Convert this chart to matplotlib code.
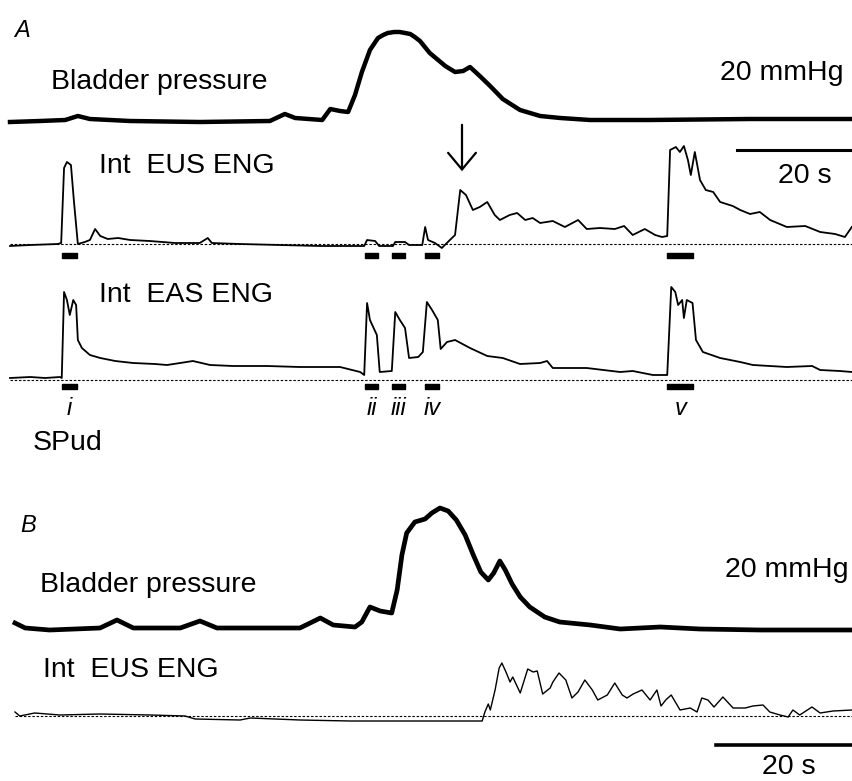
import matplotlib
matplotlib.use("Agg")
from matplotlib import pyplot as plt

plt.rcParams['font.family'] = ['Liberation Sans', 'DejaVu Sans']

# ---------------- panel A data (time in s, pressure in mmHg, ENG in a.u.) ----------------
a_p_t = [0, 5.2, 9.6, 11.8, 13.9, 20.9, 33.0, 45.2, 47.8, 49.6, 54.3, 55.7, 57.4, 58.8,
         60.0, 61.2, 62.6, 64.0, 64.9, 65.7, 66.8, 67.8, 68.7, 69.6, 70.4, 71.3, 73.0,
         75.7, 77.4, 78.8, 80.0, 81.7, 83.5, 85.7, 88.7, 92.2, 95.7, 100.9, 111.3, 128.7,
         146.4]
a_p_v = [-0.5, 0, 0.5, 2.5, 1, 0, -0.5, 0, 3.5, 1.5, 0.5, 6, 5, 4.5,
         13, 24.5, 35.5, 41.5, 43, 44, 44.5, 44.5, 44, 43.5, 42, 40, 34,
         27.5, 24.5, 25, 27, 22.5, 17.5, 11, 5.5, 2.5, 1.5, 0.5, 0.5, 1,
         1]

a_eus_t = [0, 3.5, 8.3, 8.9, 9.4, 9.9, 10.6, 11.1, 11.8, 13.0, 13.9, 14.8, 15.7, 17.0,
           18.8, 20.9, 24.3, 28.7, 33.0, 34.4, 35.1, 40.0, 46.9, 53.9, 61.6, 62.1, 63.5,
           64.2, 66.6, 67.0, 68.7, 69.4, 71.7, 72.2, 72.7, 73.9, 75.1, 76.5, 77.4, 78.3,
           79.3, 80.5, 81.7, 83.0, 84.3, 85.2, 86.9, 88.2, 89.6, 90.9, 92.2, 94.4, 96.5,
           98.8, 100.3, 102.6, 105.2, 106.8, 108.3, 110.4, 112.2, 113.4, 114.3, 114.8,
           115.8, 116.5, 117.2, 117.9, 118.4, 119.1, 120.0, 121.0, 122.3, 123.5, 125.7,
           127.0, 128.7, 130.4, 132.2, 135.1, 138.3, 140.9, 143.5, 145.2, 146.4]
a_eus_v = [-0.2, -0.1, 0, 0.1, 7.6, 8.2, 7.9, 4.4, 0, 0.2, 0.4, 1.5, 0.8, 0.5,
           0.6, 0.4, 0.3, 0.1, 0.1, 0.6, 0.1, 0, -0.1, -0.2, -0.2, 0.4, 0.3,
           -0.2, -0.2, 0.2, 0.2, -0.1, -0.1, 1.7, 0.4, 0.1, -0.4, 0.4, 0.9, 5.4,
           4.9, 3.4, 3.7, 4.2, 2.9, 2.4, 2.9, 3.1, 2.4, 2.6, 2.1, 2.3, 1.7,
           2.4, 1.5, 1.6, 1.5, 1.8, 0.9, 1.5, 0.9, 0.7, 0.8, 9.4,
           9.7, 9.2, 9.8, 8.4, 6.9, 9.2, 6.4, 5.4, 5.2, 4.2, 3.8,
           3.4, 3.0, 3.2, 2.4, 1.7, 1.8, 1.2, 1.0, 0.7, 1.7]

a_eas_t = [0, 3.5, 6.1, 8.7, 9.0, 9.4, 9.9, 10.4, 11.0, 11.5, 11.8, 12.5, 13.9, 15.7,
           18.3, 21.4, 25.2, 27.3, 29.6, 31.8, 34.8, 38.8, 44.7, 50.4, 57.4, 60.9, 61.6,
           62.1, 62.6, 63.8, 64.3, 66.4, 67.0, 67.8, 68.7, 69.4, 71.0, 71.8, 72.5, 73.4,
           74.4, 74.9, 76.0, 77.4, 80.0, 83.0, 85.7, 88.7, 92.2, 93.4, 94.4, 100.3, 106.1,
           108.3, 111.8, 114.3, 115.0, 115.7, 116.2, 116.9, 117.2, 117.7, 118.7, 119.3,
           120.5, 123.5, 127.0, 129.2, 135.1, 139.5, 140.9, 144.3, 146.4]
a_eas_v = [0.2, 0.3, 0.2, 0.3, 0.2, 8.8, 8.0, 6.5, 8.0, 7.5, 4.0, 3.2, 2.5, 2.2,
           1.9, 1.7, 1.6, 1.5, 1.7, 1.9, 1.5, 1.4, 1.4, 1.3, 1.3, 0.8, 0.5,
           7.7, 6.0, 4.5, 0.8, 0.9, 6.8, 6.0, 5.2, 2.2, 2.3, 2.8, 7.8, 7.0,
           6.0, 3.1, 3.8, 4.0, 3.2, 2.4, 2.2, 1.6, 1.7, 1.9, 1.2, 1.2, 0.8,
           0.9, 0.5, 0.5, 9.3, 8.8, 7.5, 8.0, 6.2, 8.0, 7.7, 4.0,
           2.8, 2.2, 1.8, 1.5, 1.3, 1.4, 1.0, 0.9, 0.8]

# SPud stimulation periods (s)
stim_start = [9.0, 61.7, 66.4, 72.2, 114.3]
stim_end = [11.7, 64.0, 68.7, 74.6, 118.8]
stim_labels = ['i', 'ii', 'iii', 'iv', 'v']

# ---------------- panel B data ----------------
b_p_t = [0, 1.5, 5.1, 12.5, 15.0, 17.4, 24.3, 27.2, 29.7, 36.0, 41.9, 44.9, 46.8, 50.0,
         51.0, 52.2, 53.7, 55.4, 56.2, 56.9, 57.6, 58.8, 60.3, 61.3, 62.5, 63.7, 64.9,
         66.2, 67.4, 68.5, 69.6, 70.4, 71.3, 72.1, 73.1, 74.3, 75.7, 77.9, 80.1, 84.6,
         89.0, 94.9, 100.7, 109.6, 123.1]
b_p_v = [2.5, 0, -1, 0, 4, 0, 0, 3.5, 0, 0, 0, 5, 1.5, 0.5,
         3, 10.5, 8.5, 7.5, 19, 36.5, 47.5, 53, 54.5, 57.5, 60, 58.5, 54,
         46.5, 36.5, 28, 24, 27.5, 33.5, 29, 22, 15.5, 10.5, 5.5, 3, 1.5,
         -0.5, 0.5, -0.5, -1, -1]

b_eus_t = [0, 0.7, 2.9, 6.6, 12.5, 19.9, 25.0, 26.5, 33.1, 34.6, 41.9, 49.3, 59.6, 68.7,
           69.1, 69.6, 69.9, 70.6, 71.2, 71.6, 72.2, 72.8, 73.2, 74.3, 75.4, 76.2, 76.8,
           77.6, 78.7, 79.1, 80.0, 81.0, 81.9, 82.8, 83.8, 84.9, 85.7, 87.1, 88.2, 89.3,
           90.0, 90.9, 92.2, 93.4, 94.4, 95.0, 95.7, 96.5, 97.8, 99.3, 100.3, 101.0, 101.9,
           102.8, 104.1, 105.6, 107.4, 108.5, 110.0, 111.0, 112.5, 113.7, 114.4, 115.4,
           117.2, 118.4, 120.3, 123.1]
b_eus_v = [0.4, 0, 0.3, 0.1, 0.2, 0.1, 0, -0.3, -0.4, -0.2, -0.4, -0.5, -0.5, -0.5,
           0.4, 1.2, 0.6, 2.6, 4.8, 5.3, 4.4, 3.4, 3.9, 2.3, 4.7, 4.4, 4.5,
           2.2, 2.8, 3.4, 4.3, 3.6, 1.8, 2.4, 3.6, 2.6, 1.6, 2.1, 3.3, 2.1,
           1.8, 2.2, 2.6, 1.6, 2.6, 1.0, 1.6, 2.1, 0.6, 0.8, 0.4, 1.8, 1.6,
           0.9, 1.9, 0.8, 0.8, 1.0, 1.1, 0.4, 0.1, -0.1, 0.6, 0.1,
           0.9, 0.3, 0.5, 0.6]

W, H = 852, 781
fig = plt.figure(figsize=(W / 100, H / 100), dpi=100)


def trace_axes(x0, px_per_s, t_len, base, px_per_unit, top, bot):
    """axes placed in pixel terms; data in seconds / units"""
    ax = fig.add_axes([x0 / W, 1 - bot / H, t_len * px_per_s / W, (bot - top) / H])
    ax.set_xlim(0, t_len)
    ax.set_ylim((base - bot) / px_per_unit, (base - top) / px_per_unit)
    ax.axis('off')
    ax.patch.set_alpha(0)
    return ax


TA, TB = 146.4, 123.1
dash = (0, (2.2, 1.6))

# panel A
ax_pa = trace_axes(10, 5.75, TA, 121, 2, 20, 140)
ax_pa.plot(a_p_t, a_p_v, color='black', lw=3.2, clip_on=False, solid_joinstyle='round')

ax_ea = trace_axes(10, 5.75, TA, 244, 10, 140, 265)
ax_ea.plot(a_eus_t, a_eus_v, color='black', lw=1.3, clip_on=False)
ax_ea.axhline(0, color='black', lw=0.8, ls=dash)
ax_ea.broken_barh([(s, e - s) for s, e in zip(stim_start, stim_end)], (-1.4, 0.5), color='black')
ax_ea.plot([TA - 20, TA], [9.4, 9.4], color='black', lw=2.2, clip_on=False)

ax_sa = trace_axes(10, 5.75, TA, 380, 10, 270, 395)
ax_sa.plot(a_eas_t, a_eas_v, color='black', lw=1.3, clip_on=False)
ax_sa.axhline(0, color='black', lw=0.8, ls=dash)
ax_sa.broken_barh([(s, e - s) for s, e in zip(stim_start, stim_end)], (-0.9, 0.5), color='black')
for s, e, lab in zip(stim_start, stim_end, stim_labels):
    ax_sa.text((s + e) / 2, -3.5, lab, style='italic', fontsize=17, ha='center', va='baseline')

# panel B
ax_pb = trace_axes(15, 6.8, TB, 628, 2, 490, 650)
ax_pb.plot(b_p_t, b_p_v, color='black', lw=3.4, clip_on=False, solid_joinstyle='round')

ax_eb = trace_axes(15, 6.8, TB, 716, 10, 650, 760)
ax_eb.plot(b_eus_t, b_eus_v, color='black', lw=1.0, clip_on=False)
ax_eb.axhline(0, color='black', lw=0.8, ls=dash)
ax_eb.plot([TB - 20, TB], [-2.9, -2.9], color='black', lw=2.6, clip_on=False)

# labels in pixel coordinates
ov = fig.add_axes([0, 0, 1, 1])
ov.set_xlim(0, W)
ov.set_ylim(H, 0)
ov.axis('off')
ov.patch.set_alpha(0)

fs = 20.5
ov.text(14, 37, 'A', style='italic', fontsize=17, va='baseline')
ov.text(51, 89, 'Bladder pressure', fontsize=fs, va='baseline')
ov.text(720, 80, '20 mmHg', fontsize=fs, va='baseline')
ov.text(99, 173, 'Int  EUS ENG', fontsize=fs, va='baseline')
ov.text(778, 183, '20 s', fontsize=fs, va='baseline')
ov.text(99, 302, 'Int  EAS ENG', fontsize=fs, va='baseline')
ov.text(33, 450, 'SPud', fontsize=fs, va='baseline')
ov.annotate('', xy=(462, 174), xytext=(462, 122),
            arrowprops=dict(arrowstyle='->,head_width=1.0,head_length=1.2',
                            lw=1.6, color='black', mutation_scale=10))

ov.text(20, 532, 'B', style='italic', fontsize=17, va='baseline')
ov.text(40, 592, 'Bladder pressure', fontsize=fs, va='baseline')
ov.text(725, 577, '20 mmHg', fontsize=fs, va='baseline')
ov.text(43, 677, 'Int  EUS ENG', fontsize=fs, va='baseline')
ov.text(762, 774, '20 s', fontsize=fs, va='baseline')

fig.savefig('out.png', dpi=100)
